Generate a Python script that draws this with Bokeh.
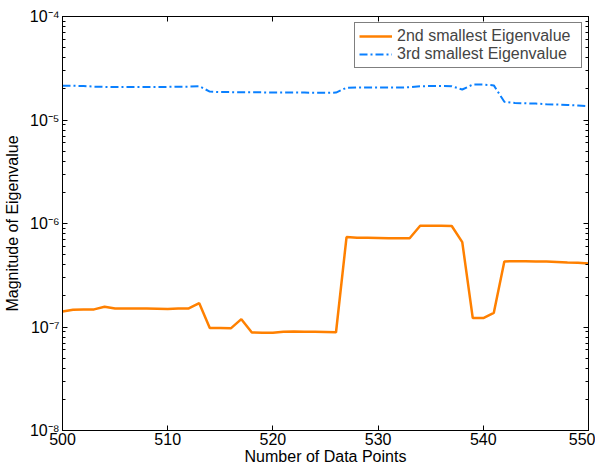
from bokeh.plotting import figure
from bokeh.models import LinearAxis, LogAxis, Range1d, Legend, LegendItem, CustomJSTickFormatter, FixedTicker, LogTicker
from bokeh.embed import file_html
from bokeh.resources import INLINE

x = list(range(500, 551))
eig2 = [1.41e-7, 1.47e-7, 1.48e-7, 1.48e-7, 1.57e-7, 1.51e-7, 1.51e-7, 1.51e-7, 1.51e-7, 1.50e-7,
        1.49e-7, 1.51e-7, 1.51e-7, 1.70e-7, 0.98e-7, 0.98e-7, 0.97e-7, 1.19e-7, 0.885e-7, 0.88e-7,
        0.88e-7, 0.90e-7, 0.905e-7, 0.90e-7, 0.90e-7, 0.895e-7, 0.89e-7, 7.40e-7, 7.30e-7, 7.30e-7,
        7.25e-7, 7.20e-7, 7.20e-7, 7.20e-7, 9.50e-7, 9.50e-7, 9.50e-7, 9.45e-7, 6.60e-7, 1.22e-7,
        1.22e-7, 1.37e-7, 4.30e-7, 4.32e-7, 4.32e-7, 4.30e-7, 4.30e-7, 4.25e-7, 4.20e-7, 4.17e-7,
        4.10e-7]
eig3 = [2.14e-5, 2.14e-5, 2.13e-5, 2.10e-5, 2.09e-5, 2.08e-5, 2.08e-5, 2.08e-5, 2.08e-5, 2.08e-5,
        2.09e-5, 2.10e-5, 2.10e-5, 2.12e-5, 1.88e-5, 1.86e-5, 1.86e-5, 1.85e-5, 1.85e-5, 1.85e-5,
        1.84e-5, 1.84e-5, 1.84e-5, 1.84e-5, 1.83e-5, 1.83e-5, 1.84e-5, 2.05e-5, 2.06e-5, 2.06e-5,
        2.06e-5, 2.06e-5, 2.06e-5, 2.07e-5, 2.12e-5, 2.13e-5, 2.13e-5, 2.12e-5, 1.97e-5, 2.20e-5,
        2.20e-5, 2.16e-5, 1.50e-5, 1.46e-5, 1.45e-5, 1.44e-5, 1.42e-5, 1.41e-5, 1.40e-5, 1.38e-5,
        1.36e-5]
x_ticks = [500, 510, 520, 530, 540, 550]
series_names = ["2nd smallest Eigenvalue", "3rd smallest Eigenvalue"]

FONT = "Liberation Sans"

p = figure(width=595, height=467, y_axis_type="log",
           x_range=Range1d(500, 550), y_range=Range1d(1e-8, 1e-4),
           output_backend="svg", toolbar_location=None,
           min_border_left=55, min_border_top=16, min_border_right=7, min_border_bottom=35)
p.xgrid.visible = False
p.ygrid.visible = False
p.outline_line_color = "black"
p.outline_line_width = 1
p.background_fill_color = "white"

r2 = p.line(x, eig2, line_color="#ff8000", line_width=2.5)
r3 = p.line(x, eig3, line_color="#0a80ff", line_width=2, line_dash="8 3 2 3")

fmt = CustomJSTickFormatter(code="""
const e = Math.round(Math.log10(tick));
const sup = {'-':'\u207b','0':'\u2070','1':'\u00b9','2':'\u00b2','3':'\u00b3','4':'\u2074','5':'\u2075','6':'\u2076','7':'\u2077','8':'\u2078','9':'\u2079'};
return '10' + String(e).split('').map(c => sup[c]).join('');
""")

def style_axis(ax):
    ax.major_tick_in = 5
    ax.major_tick_out = 0
    ax.minor_tick_in = 3
    ax.minor_tick_out = 0
    ax.axis_line_color = "black"
    ax.major_tick_line_color = "black"
    ax.minor_tick_line_color = "black"
    ax.major_label_text_font = FONT
    ax.major_label_text_font_size = "16px"
    ax.major_label_text_color = "black"
    ax.axis_label_text_font = FONT
    ax.axis_label_text_font_size = "16px"
    ax.axis_label_text_font_style = "normal"
    ax.axis_label_text_color = "black"

xa = p.xaxis[0]
xa.ticker = FixedTicker(ticks=x_ticks)
xa.axis_label = "Number of Data Points"
xa.axis_label_standoff = 0
xa.major_label_standoff = 2
style_axis(xa)

ya = p.yaxis[0]
ya.ticker = LogTicker(num_minor_ticks=10)
ya.formatter = fmt
ya.axis_label = "Magnitude of Eigenvalue"
ya.axis_label_standoff = 6
ya.major_label_standoff = 3
style_axis(ya)

top = LinearAxis(ticker=FixedTicker(ticks=x_ticks))
style_axis(top)
top.major_label_text_font_size = "1px"
top.major_label_text_alpha = 0
top.major_label_standoff = 0
p.add_layout(top, "above")

right = LogAxis(ticker=LogTicker(num_minor_ticks=10), formatter=fmt)
style_axis(right)
right.major_label_text_font_size = "1px"
right.major_label_text_alpha = 0
right.major_label_standoff = 0
p.add_layout(right, "right")

legend = Legend(items=[LegendItem(label=series_names[0], renderers=[r2]),
                       LegendItem(label=series_names[1], renderers=[r3])],
                location="top_right")
legend.margin = 6
legend.padding = 4
legend.spacing = 0
legend.glyph_width = 33
legend.glyph_height = 18
legend.label_height = 18
legend.label_standoff = 5
legend.label_width = 180
legend.label_text_font = FONT
legend.label_text_font_size = "16px"
legend.border_line_color = "black"
legend.border_line_width = 1
legend.background_fill_alpha = 1.0
p.add_layout(legend, "center")

open("out.html", "w").write(file_html(p, INLINE))
